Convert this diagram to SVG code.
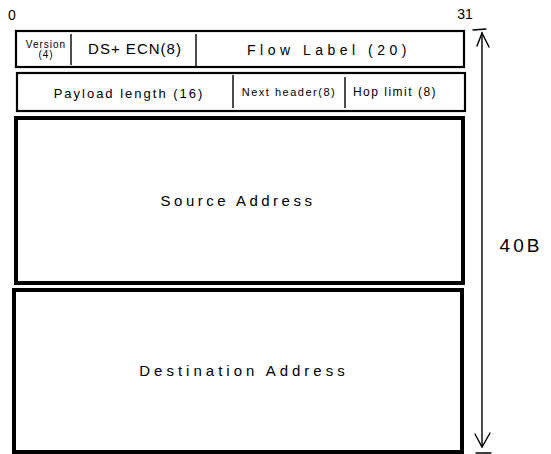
<svg xmlns="http://www.w3.org/2000/svg" width="551" height="454" viewBox="0 0 551 454">
<style>
.box{fill:#fff;stroke:#000;stroke-width:2.2}
.big{fill:#fff;stroke:#000;stroke-width:4}
.div{stroke:#000;stroke-width:1.4}
.t{font-family:"Liberation Sans",Arial,sans-serif;fill:#000;text-anchor:middle;dominant-baseline:central}
.ln{stroke:#000;stroke-width:1.4;fill:none;stroke-linecap:round}
</style>
<rect width="551" height="454" fill="#fff"/>
<text class="t" x="12" y="15" font-size="14">0</text>
<text class="t" x="465" y="14" font-size="14">31</text>
<g id="row1">
<rect class="box" x="16" y="31" width="448" height="36"/>
<line class="div" x1="71" y1="34" x2="71" y2="65"/>
<line class="div" x1="196" y1="34" x2="196" y2="66"/>
<text class="t" x="46" y="44" font-size="10" letter-spacing="1">Version</text>
<text class="t" x="46" y="54" font-size="10" letter-spacing="1">(4)</text>
<text class="t" x="135" y="48" font-size="15" letter-spacing="1">DS+ ECN(8)</text>
<text class="t" x="329" y="50" font-size="14" letter-spacing="4.5">Flow Label (20)</text>
</g>
<g id="row2">
<rect class="box" x="17" y="73" width="448" height="38"/>
<line class="div" x1="233" y1="75" x2="233" y2="108"/>
<line class="div" x1="345" y1="77" x2="345" y2="108"/>
<text class="t" x="129" y="93" font-size="13" letter-spacing="2">Payload length (16)</text>
<text class="t" x="289" y="92" font-size="11" letter-spacing="1.5">Next header(8)</text>
<text class="t" x="395" y="92" font-size="12" letter-spacing="1.5">Hop limit (8)</text>
</g>
<g id="source">
<rect class="big" x="16" y="118" width="447" height="165"/>
<text class="t" x="238" y="200" font-size="15" letter-spacing="3.5">Source Address</text>
</g>
<g id="dest">
<rect class="big" x="14" y="290" width="448" height="162"/>
<text class="t" x="244" y="370" font-size="15" letter-spacing="4">Destination Address</text>
</g>
<g id="connectors">
<line class="ln" x1="482" y1="33" x2="482" y2="446"/>
<polyline class="ln" points="477,46 482,33 489,47"/>
<line class="ln" x1="473" y1="30" x2="486" y2="29"/>
<polyline class="ln" points="475,434 482,447 490,433"/>
<line class="ln" x1="476" y1="453" x2="491" y2="453"/>
</g>
<text class="t" x="521" y="245" font-size="19" letter-spacing="3">40B</text>
</svg>
